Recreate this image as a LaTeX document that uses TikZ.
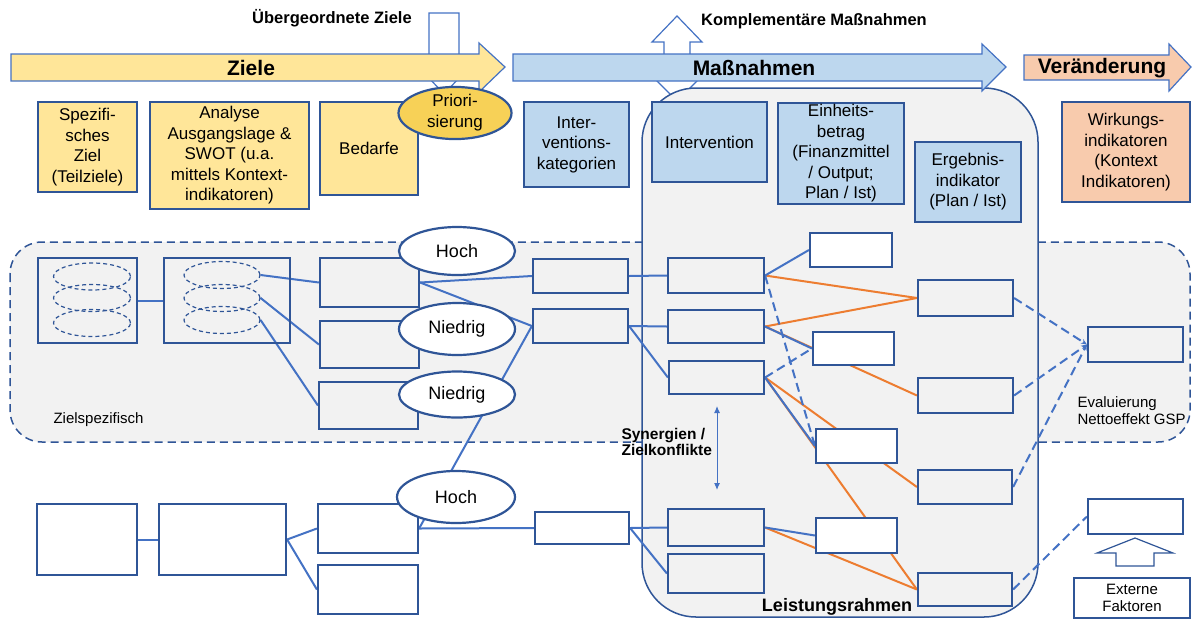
\documentclass[tikz,border=0pt]{standalone}
\usepackage{fontspec}
\setmainfont{Liberation Sans}
\usetikzlibrary{arrows.meta,shapes.geometric}
\pgfdeclarelayer{bg}
\pgfdeclarelayer{lines}
\pgfsetlayers{bg,lines,main}

\definecolor{rahmenblau}{HTML}{2F5597}
\definecolor{linienblau}{HTML}{4472C4}
\definecolor{zielgelb}{HTML}{FFE699}
\definecolor{priogelb}{HTML}{F7D157}
\definecolor{massblau}{HTML}{BDD7EE}
\definecolor{wirklachs}{HTML}{F8CBAD}
\definecolor{konfliktorange}{HTML}{ED7D31}
\definecolor{flaeche}{HTML}{F2F2F2}

\tikzset{
  kasten/.style={draw=rahmenblau, line width=2.2pt, inner sep=0pt, align=center, font=\fontsize{17}{20.5}\selectfont},
  weiss/.style={kasten, fill=white},
  oval/.style={ellipse, draw=rahmenblau, line width=2.2pt, fill=white, inner sep=0pt, align=center, font=\fontsize{18}{21}\selectfont},
  topf/.style={ellipse, draw=rahmenblau, line width=1.2pt, dash pattern=on 4pt off 3pt, inner sep=0pt, minimum width=77pt, minimum height=27pt},
  pfeil/.style={draw=linienblau, line width=1.2pt},
  linie/.style={draw=linienblau, line width=2pt},
  konflikt/.style={draw=konfliktorange, line width=2pt},
  bezug/.style={linie, dash pattern=on 9pt off 5pt},
  titel/.style={font=\fontsize{21}{24}\selectfont\bfseries},
  hinweis/.style={font=\fontsize{16.5}{19}\selectfont\bfseries, align=left},
}

\begin{document}
\begin{tikzpicture}[x=1pt,y=-1pt]
  \useasboundingbox (0,0) rectangle (1193,619);

  \begin{pgfonlayer}{bg}
  \draw[pfeil, fill=white] (429,13) -- (459,13) -- (459,62) -- (474,62) -- (444,94) -- (414,62) -- (429,62) -- cycle;
  \draw[pfeil, fill=white] (677,16) -- (702,42) -- (690,42) -- (690,64) -- (714,64) -- (677,101) -- (640,64) -- (664,64) -- (664,42) -- (652,42) -- cycle;

  \draw[draw=rahmenblau, line width=1.5pt, dash pattern=on 8pt off 5pt, fill=flaeche, rounded corners=32pt] (10,242) rectangle (1190,442);
  \draw[draw=rahmenblau, line width=1.5pt, fill=flaeche, rounded corners=54pt] (642,88) rectangle (1038,617);

  \draw[pfeil, fill=zielgelb] (11,54) -- (479,54) -- (479,43) -- (505,67) -- (479,92) -- (479,81) -- (11,81) -- cycle;
  \draw[pfeil, fill=massblau] (513,54) -- (982,54) -- (982,44) -- (1006,67) -- (982,91) -- (982,81) -- (513,81) -- cycle;
  \draw[pfeil, fill=wirklachs] (1024,55) -- (1169,55) -- (1169,44) -- (1191,67) -- (1169,91) -- (1169,80) -- (1024,80) -- cycle;
  \draw[pfeil, draw=rahmenblau, fill=white] (1135,538) -- (1173,553) -- (1154,553) -- (1154,566) -- (1116,566) -- (1116,553) -- (1097,553) -- cycle;
  \end{pgfonlayer}

  \node[titel] (ziele) at (251,68) {Ziele};
  \node[titel] (massnahmen) at (754,68) {Maßnahmen};
  \node[titel] (veraenderung) at (1102,68) {Veränderung};
  \node[hinweis] (uebergeordnet) at (332,18) {Übergeordnete Ziele};
  \node[hinweis] (komplementaer) at (814,21) {Komplementäre Maßnahmen};

  \node[kasten, fill=zielgelb, minimum width=99pt, minimum height=90pt] (spez) at (87.5,147) {Spezifi-\\sches\\Ziel\\(Teilziele)};
  \node[kasten, fill=zielgelb, minimum width=159pt, minimum height=107pt] (analyse) at (229.5,155.5) {Analyse\\Ausgangslage \&\\SWOT (u.a.\\mittels Kontext-\\indikatoren)};
  \node[kasten, fill=zielgelb, minimum width=98pt, minimum height=93pt] (bedarfe) at (369,148.5) {Bedarfe};
  \node[oval, fill=priogelb, minimum width=113pt, minimum height=50pt, font=\fontsize{17}{21}\selectfont] (prio) at (455,113) {Priori-\\sierung};
  \node[kasten, fill=massblau, minimum width=105pt, minimum height=85pt] (kategorien) at (576.5,144.5) {Inter-\\ventions-\\kategorien};
  \node[kasten, fill=massblau, minimum width=115pt, minimum height=80pt] (intervention) at (709.5,142) {Intervention};
  \node[kasten, fill=massblau, minimum width=126pt, minimum height=101pt] (einheit) at (841,153.5) {Einheits-\\betrag\\(Finanzmittel\\/ Output;\\Plan / Ist)};
  \node[kasten, fill=massblau, minimum width=106pt, minimum height=80pt] (ergebnis) at (968,182) {Ergebnis-\\indikator\\(Plan / Ist)};
  \node[kasten, fill=wirklachs, minimum width=128pt, minimum height=100pt] (wirkung) at (1126,152) {Wirkungs-\\indikatoren\\(Kontext\\Indikatoren)};

  \node[kasten, minimum width=99pt, minimum height=85pt] (a1) at (87.5,300.5) {};
  \node[topf] (a1o1) at (92,276.5) {};
  \node[topf] (a1o2) at (92,298) {};
  \node[topf] (a1o3) at (92,323) {};
  \node[kasten, minimum width=126pt, minimum height=85pt] (a2) at (227,300.5) {};
  \node[topf, minimum width=76pt] (a2o1) at (222,275) {};
  \node[topf, minimum width=76pt] (a2o2) at (222,298) {};
  \node[topf, minimum width=76pt] (a2o3) at (222,320) {};

  \node[kasten, minimum width=99pt, minimum height=49pt] (b1) at (369.5,282.5) {};
  \node[kasten, minimum width=99pt, minimum height=47pt] (b2) at (369.5,344.5) {};
  \node[kasten, minimum width=99pt, minimum height=47pt] (b3) at (368.5,405.5) {};
  \node[oval, minimum width=116pt, minimum height=48pt] (hoch1) at (457,251) {Hoch};
  \node[oval, minimum width=116pt, minimum height=52pt] (niedrig1) at (457,329) {Niedrig};
  \node[oval, minimum width=116pt, minimum height=46pt] (niedrig2) at (457,394.5) {Niedrig};
  \node[kasten, minimum width=95pt, minimum height=34pt] (c1) at (580.5,276) {};
  \node[kasten, minimum width=95pt, minimum height=34pt] (c2) at (580.5,326) {};

  \node[kasten, minimum width=100pt, minimum height=71pt] (d1) at (87,539.5) {};
  \node[kasten, minimum width=127pt, minimum height=71pt] (d2) at (222.5,539.5) {};
  \node[kasten, minimum width=100pt, minimum height=49pt] (d3) at (368,528.5) {};
  \node[kasten, minimum width=100pt, minimum height=49pt] (d4) at (368,589.5) {};
  \node[oval, minimum width=118pt, minimum height=52pt] (hoch2) at (456,497) {Hoch};
  \node[kasten, minimum width=94pt, minimum height=32pt] (c3) at (582,528) {};

  \node[kasten, minimum width=96pt, minimum height=35pt] (e1) at (716,275.5) {};
  \node[kasten, minimum width=96pt, minimum height=33pt] (e2) at (716,326.5) {};
  \node[kasten, minimum width=95pt, minimum height=33pt] (e3) at (716.5,377.5) {};
  \node[kasten, minimum width=96pt, minimum height=37pt] (e4) at (716,527.5) {};
  \node[kasten, minimum width=96pt, minimum height=39pt] (e5) at (716,573.5) {};

  \node[weiss, minimum width=82pt, minimum height=34pt] (f1) at (851,250) {};
  \node[weiss, minimum width=81pt, minimum height=33pt] (f2) at (853.5,348.5) {};
  \node[weiss, minimum width=81pt, minimum height=34pt] (f3) at (856.5,446) {};
  \node[weiss, minimum width=81pt, minimum height=35pt] (f4) at (856.5,535.5) {};

  \node[kasten, minimum width=95pt, minimum height=36pt] (g1) at (965.5,298) {};
  \node[kasten, minimum width=95pt, minimum height=35pt] (g2) at (965.5,395.5) {};
  \node[kasten, minimum width=94pt, minimum height=34pt] (g3) at (965,487) {};
  \node[kasten, minimum width=94pt, minimum height=33pt] (g4) at (965,589.5) {};

  \node[kasten, minimum width=95pt, minimum height=35pt] (h1) at (1135.5,344.5) {};
  \node[weiss, minimum width=95pt, minimum height=35pt] (h2) at (1135.5,516.5) {};
  \node[weiss, line width=2pt, minimum width=116pt, minimum height=40pt, font=\fontsize{15}{16.5}\selectfont] (extern) at (1132,598) {Externe\\Faktoren};

  \node[font=\fontsize{15}{18}\selectfont, anchor=west] (zielspez) at (50,420) {Zielspezifisch};
  \node[font=\fontsize{15}{17}\selectfont, align=left, anchor=west] (evaluierung) at (1074,411) {Evaluierung\\Nettoeffekt GSP};
  \node[hinweis, font=\fontsize{15.5}{16.5}\selectfont\bfseries, anchor=west] (synergien) at (618,442) {Synergien /\\Zielkonflikte};
  \node[font=\fontsize{18}{20}\selectfont\bfseries] (leistung) at (837,607) {Leistungsrahmen};

  \coordinate (synoben) at (717,406);
  \coordinate (synunten) at (717,490);

  \begin{pgfonlayer}{lines}
  \draw[konflikt] (e1.east) -- (g1.west);
  \draw[konflikt] (e2.east) -- (g1.west);
  \draw[konflikt] (e2.east) -- (g2.west);
  \draw[konflikt] (e3.east) -- (g3.west);
  \draw[konflikt] (e3.east) -- (g4.west);
  \draw[konflikt] (e4.east) -- (g4.west);

  \draw[linie] (a1.east) -- (a2.west);
  \draw[linie] (a2o1.east) -- (b1.west);
  \draw[linie] (a2o2.east) -- (b2.west);
  \draw[linie] (a2o3.east) -- (b3.west);
  \draw[linie] (b1.east) -- (c1.west);
  \draw[linie] (b1.east) -- (c2.west);
  \draw[linie] (d3.east) -- (c2.west);
  \draw[linie] (c1.east) -- (e1.west);
  \draw[linie] (c2.east) -- (e2.west);
  \draw[linie] (c2.east) -- (e3.west);

  \draw[linie] (d1.east) -- (d2.west);
  \draw[linie] (d2.east) -- (d3.west);
  \draw[linie] (d2.east) -- (d4.west);
  \draw[linie] (d3.east) -- (c3.west);
  \draw[linie] (c3.east) -- (e4.west);
  \draw[linie] (c3.east) -- (e5.west);

  \draw[linie] (e1.east) -- (f1.west);
  \draw[linie] (e2.east) -- (f2.west);
  \draw[linie] (e3.east) -- (f3.west);
  \draw[linie] (e4.east) -- (f4.west);

  \draw[bezug] (e3.east) -- (f2.west);
  \draw[bezug, -{Stealth[length=6pt,width=5pt]}] (e1.east) -- (f3.west);
  \draw[bezug, -{Stealth[length=6pt,width=5pt]}] (g1.east) -- (h1.west);
  \draw[bezug, -{Stealth[length=6pt,width=5pt]}] (g2.east) -- (h1.west);
  \draw[bezug, -{Stealth[length=6pt,width=5pt]}] (g3.east) -- (h1.west);
  \draw[bezug] (g4.east) -- (h2.west);

  \draw[linienblau, line width=1pt, {Latex[length=7pt,width=6pt]}-{Latex[length=7pt,width=6pt]}] (synoben) -- (synunten);
  \end{pgfonlayer}
\end{tikzpicture}
\end{document}
